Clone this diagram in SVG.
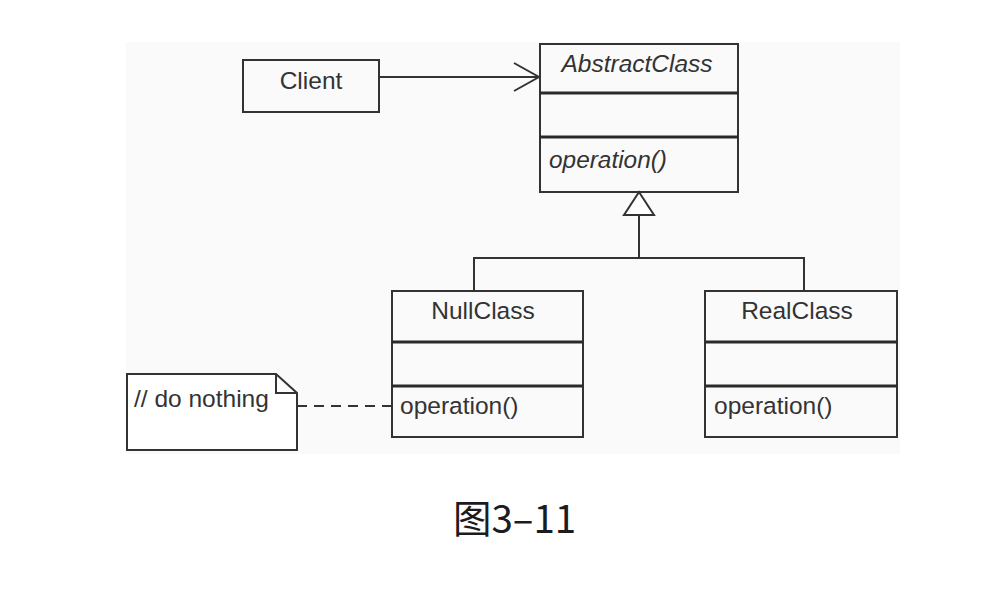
<svg xmlns="http://www.w3.org/2000/svg" width="1008" height="600" viewBox="0 0 1008 600">
<style>
.box{fill:none;stroke:#333;stroke-width:2}
.div{stroke:#2a2a2a;stroke-width:3}
.line{fill:none;stroke:#333;stroke-width:2}
.t{font-family:"Liberation Sans",Arial,sans-serif;font-size:24.5px;fill:#333}
.it{font-style:italic}
.cap{font-family:"Noto Sans CJK SC","Noto Sans",sans-serif;font-size:38.5px;fill:#1c1c1e}
</style>
<defs>
<marker id="open" markerUnits="userSpaceOnUse" markerWidth="30" markerHeight="32" refX="26" refY="15" orient="auto">
<path d="M1,1 L26,15 L1,29" fill="none" stroke="#333" stroke-width="2"/>
</marker>
</defs>
<rect width="1008" height="600" fill="#fff"/>
<rect x="126" y="42" width="774" height="412" fill="#fafafa"/>
<g id="connectors">
<line class="line" x1="379" y1="77" x2="539" y2="77" marker-end="url(#open)"/>
<polygon points="639,192 624,215 654,215" fill="#fff" stroke="#333" stroke-width="2"/>
<polyline class="line" points="639,215 639,258"/>
<polyline class="line" points="474,291 474,258 804,258 804,291"/>
<line class="line" x1="297" y1="406" x2="391" y2="406" stroke-dasharray="10,7"/>
</g>
<g id="client">
<rect class="box" x="243" y="60" width="136" height="52" fill="#fff"/>
<text class="t" x="311" y="89" text-anchor="middle">Client</text>
</g>
<g id="abstractclass">
<rect class="box" x="540" y="44" width="198" height="148" fill="#fff"/>
<line class="div" x1="540" y1="93" x2="738" y2="93"/>
<line class="div" x1="540" y1="137" x2="738" y2="137"/>
<text class="t it" x="637" y="72" text-anchor="middle" textLength="151" lengthAdjust="spacingAndGlyphs">AbstractClass</text>
<text class="t it" x="549" y="168" textLength="118" lengthAdjust="spacingAndGlyphs">operation()</text>
</g>
<g id="nullclass">
<rect class="box" x="392" y="291" width="191" height="146" fill="#fff"/>
<line class="div" x1="392" y1="342" x2="583" y2="342"/>
<line class="div" x1="392" y1="386" x2="583" y2="386"/>
<text class="t" x="483" y="319" text-anchor="middle">NullClass</text>
<text class="t" x="400" y="414">operation()</text>
</g>
<g id="realclass">
<rect class="box" x="705" y="291" width="192" height="146" fill="#fff"/>
<line class="div" x1="705" y1="342" x2="897" y2="342"/>
<line class="div" x1="705" y1="386" x2="897" y2="386"/>
<text class="t" x="797" y="319" text-anchor="middle">RealClass</text>
<text class="t" x="714" y="414">operation()</text>
</g>
<g id="note">
<path d="M127,374 L276,374 L297,393 L297,450 L127,450 Z" fill="#fff" stroke="#333" stroke-width="2"/>
<path d="M276,374 L276,393 L297,393" fill="none" stroke="#333" stroke-width="2"/>
<text class="t" x="134" y="407">// do nothing</text>
</g>
<text class="cap" x="453" y="533">图3–11</text>
</svg>
